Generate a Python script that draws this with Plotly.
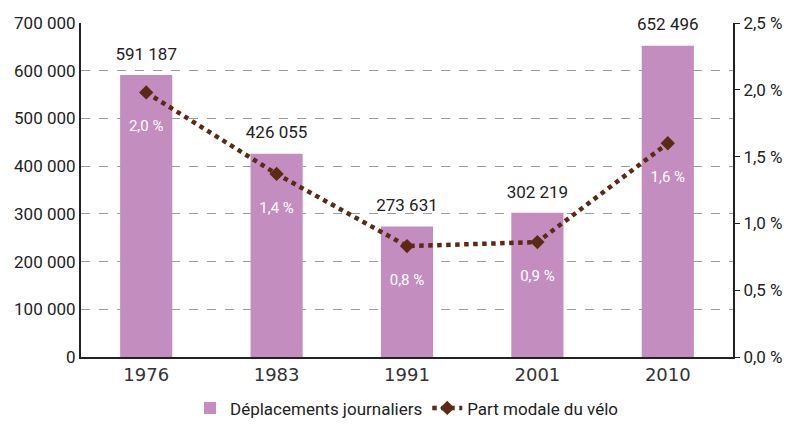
import plotly.graph_objects as go

years = ["1976", "1983", "1991", "2001", "2010"]
deplacements = [591187, 426055, 273631, 302219, 652496]
part_modale = [1.98, 1.37, 0.83, 0.86, 1.60]
part_labels = ["2,0 %", "1,4 %", "0,8 %", "0,9 %", "1,6 %"]
left_ticks = [0, 100000, 200000, 300000, 400000, 500000, 600000, 700000]
right_ticks = [0.0, 0.5, 1.0, 1.5, 2.0, 2.5]

bar_color = "#C48DBF"
line_color = "#5A2A14"
narrow = "Roboto, sans-serif"

def fr_int(v):
    return f"{v:,}".replace(",", " ")

fig = go.Figure()
fig.add_trace(go.Bar(
    x=years, y=deplacements, name="Déplacements journaliers",
    marker=dict(color=bar_color, line=dict(width=0)),
    hoverinfo="skip",
))
# value labels above bars (invisible markers give the gap above the bar tops)
fig.add_trace(go.Scatter(
    x=years, y=deplacements, mode="markers+text", showlegend=False,
    text=[fr_int(v) for v in deplacements], textposition="top center",
    textfont=dict(family=narrow, size=17, color="#222"),
    marker=dict(size=16, opacity=0), cliponaxis=False, hoverinfo="skip",
))
fig.add_trace(go.Scatter(
    x=years, y=part_modale, name="Part modale du vélo", yaxis="y2",
    mode="lines+markers+text",
    text=["<br>" + t for t in part_labels], textposition="bottom center",
    textfont=dict(family=narrow, size=15, color="white"),
    line=dict(color=line_color, width=4.5, dash="dot"),
    marker=dict(symbol="diamond", size=11, color=line_color),
))

fig.update_layout(
    width=791, height=418,
    margin=dict(l=73, r=66, t=15, b=69, autoexpand=False),
    paper_bgcolor="white", plot_bgcolor="white",
    showlegend=True,
    legend=dict(orientation="h", x=0.5, xanchor="center", y=-0.1, yanchor="top",
                font=dict(family=narrow, size=17, color="#222")),
    bargap=0.6,
    xaxis=dict(showline=True, linecolor="#222", linewidth=2, automargin=False,
               tickfont=dict(family="DejaVu Sans, sans-serif", size=18, color="#333"),
               showgrid=False),
    yaxis=dict(range=[0, 700000], tickvals=left_ticks, automargin=False,
               ticktext=[fr_int(v) for v in left_ticks],
               showline=True, linecolor="#222", linewidth=2,
               showgrid=True, gridcolor="#9a9a9a", griddash="dash", gridwidth=1,
               tickfont=dict(family=narrow, size=17, color="#222"), zeroline=False),
    yaxis2=dict(range=[0, 2.5], tickvals=right_ticks, automargin=False,
                ticktext=[f"{v:.1f} %".replace(".", ",") for v in right_ticks],
                overlaying="y", side="right", showline=True, linecolor="#222", linewidth=2,
                showgrid=False, zeroline=False, ticks="outside", ticklen=5, tickcolor="#222",
                tickfont=dict(family=narrow, size=17, color="#222")),
)
fig.update_xaxes(type="category")
fig.write_html("out.html")
